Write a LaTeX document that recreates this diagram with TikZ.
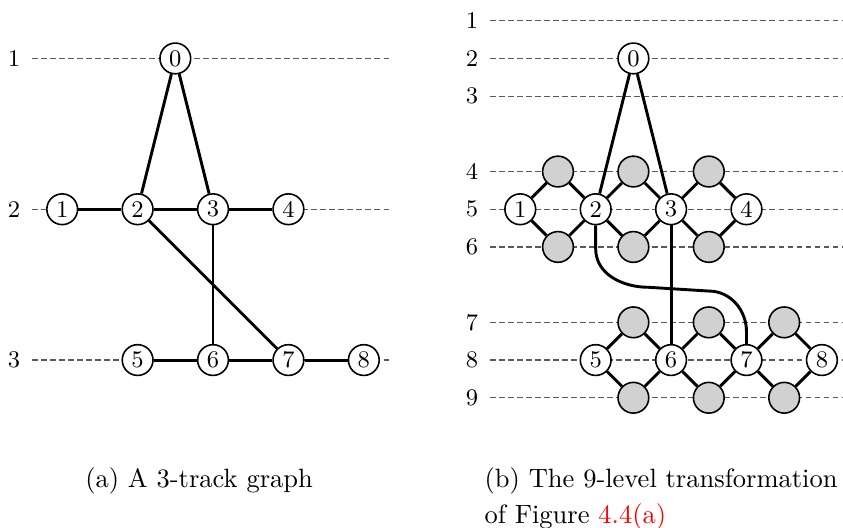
\documentclass[tikz,border=0pt]{standalone}
\usetikzlibrary{calc}
\tikzset{
  vertex/.style={draw, circle, fill=white, line width=0.6pt, minimum size=11.6pt, inner sep=0pt, font=\small},
  dummy/.style={vertex, fill=black!18},
  edge/.style={line width=1.1pt},
  level/.style={draw=black!65, line width=0.45pt, dash pattern=on 2.2pt off 1.2pt, shorten <=1pt},
  lab/.style={font=\small}
}
\begin{document}
\begin{tikzpicture}[x=0.5cm,y=0.5cm]
  \useasboundingbox (0,0) rectangle (22.36,-13.98);

  %tracks (a)
  \foreach \t/\y in {1/1.55,2/5.55,3/9.55} {
    \node[lab] (aT\t) at (0.37,-\y) {\t};
    \coordinate (aE\t) at (10.4,-\y);
    \draw[level] (aT\t.east) -- (aE\t);
  }

  %levels (b)
  \foreach \l/\y in {1/0.55,2/1.55,3/2.55,4/4.55,5/5.55,6/6.55,7/8.55,8/9.55,9/10.55} {
    \node[lab] (bL\l) at (12.52,-\y) {\l};
    \coordinate (bE\l) at (22.36,-\y);
    \draw[level] (bL\l.east) -- (bE\l);
  }

  %3-track graph
  \node[vertex] (a0) at (4.65,-1.55) {0};
  \node[vertex] (a1) at (1.65,-5.55) {1};
  \node[vertex] (a2) at (3.65,-5.55) {2};
  \node[vertex] (a3) at (5.65,-5.55) {3};
  \node[vertex] (a4) at (7.65,-5.55) {4};
  \node[vertex] (a5) at (3.65,-9.55) {5};
  \node[vertex] (a6) at (5.65,-9.55) {6};
  \node[vertex] (a7) at (7.65,-9.55) {7};
  \node[vertex] (a8) at (9.65,-9.55) {8};

  \draw[edge] (a2) -- (a0) -- (a3);
  \draw[edge] (a1) -- (a2) -- (a3) -- (a4);
  \draw[edge] (a5) -- (a6) -- (a7) -- (a8);
  \draw[edge] (a3) -- (a6);
  \draw[edge] (a2) -- (a7);

  %9-level transformation
  \node[vertex] (b0) at (16.8,-1.55) {0};
  \node[vertex] (b1) at (13.8,-5.55) {1};
  \node[vertex] (b2) at (15.8,-5.55) {2};
  \node[vertex] (b3) at (17.8,-5.55) {3};
  \node[vertex] (b4) at (19.8,-5.55) {4};
  \node[vertex] (b5) at (15.8,-9.55) {5};
  \node[vertex] (b6) at (17.8,-9.55) {6};
  \node[vertex] (b7) at (19.8,-9.55) {7};
  \node[vertex] (b8) at (21.8,-9.55) {8};

  \foreach \k in {1,2,3} {
    \node[dummy] (g4\k) at (12.8+2*\k,-4.55) {};
    \node[dummy] (g6\k) at (12.8+2*\k,-6.55) {};
    \node[dummy] (g7\k) at (14.8+2*\k,-8.55) {};
    \node[dummy] (g9\k) at (14.8+2*\k,-10.55) {};
  }

  \foreach \i/\j/\k in {1/2/1,2/3/2,3/4/3}
    \draw[edge] (b\i) -- (g4\k) -- (b\j) -- (g6\k) -- (b\i);
  \foreach \i/\j/\k in {5/6/1,6/7/2,7/8/3}
    \draw[edge] (b\i) -- (g7\k) -- (b\j) -- (g9\k) -- (b\i);

  \draw[edge] (b2) -- (b0) -- (b3);
  \draw[edge] (b3) -- (b6);

  % edge 2-7 routed between the level groups
  \coordinate (cA) at (15.8,-6.6);
  \coordinate (cB) at (17.2,-7.62);
  \coordinate (cC) at (18.8,-7.72);
  \coordinate (cD) at (19.8,-8.8);
  \draw[edge] (b2) -- (cA) to[out=-90,in=180] (cB) -- (cC) to[out=0,in=90] (cD) -- (b7);

  %captions
  \node (capA) at (5.28,-12.76) {(a) A 3-track graph};
  \node[anchor=west, align=left, inner sep=0pt] (capB) at (12.84,-13.24)
    {(b) The 9-level transformation\\[1.5pt] of Figure \textcolor{red}{4.4(a)}};
\end{tikzpicture}
\end{document}
